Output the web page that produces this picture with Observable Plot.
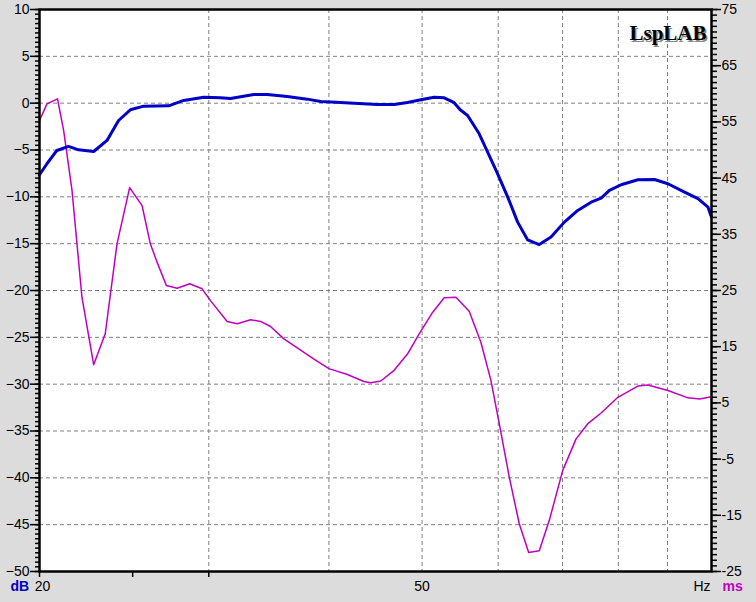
<!DOCTYPE html>
<html>
<head>
<meta charset="utf-8">
<script src="https://cdn.jsdelivr.net/npm/d3@7"></script>
<script src="https://cdn.jsdelivr.net/npm/@observablehq/plot@0.6"></script>
<style>
  html, body { margin: 0; padding: 0; background: #dcdcdc; }
  #chart svg { display: block; }
</style>
</head>
<body>
<div id="chart"></div>
<script>
// Frequency response (dB) – blue curve
const freqDb = [20.0, 20.36, 20.85, 21.44, 21.96, 22.77, 23.51, 24.17, 24.86, 25.67, 27.25, 28.25, 29.64,
  30.85, 31.60, 33.42, 34.51, 36.20, 37.98, 39.22, 41.14, 42.48, 44.93, 46.76, 48.28, 49.85, 51.47, 52.72,
  53.99, 54.78, 55.76, 57.33, 58.50, 59.92, 61.37, 62.86, 64.39, 66.20, 68.09, 70.30, 72.59, 74.95, 76.77,
  78.31, 80.54, 83.83, 87.24, 90.09, 93.75, 96.82, 99.17, 100];
const levelDb = [-7.64, -6.47, -5.05, -4.62, -4.98, -5.16, -3.98, -1.85, -0.71, -0.32, -0.28, 0.29, 0.64,
  0.57, 0.5, 0.93, 0.93, 0.72, 0.43, 0.18, 0.07, 0.0, -0.14, -0.14, 0.07, 0.36, 0.64, 0.57,
  0.05, -0.71, -1.31, -3.27, -5.23, -7.54, -10.0, -12.7, -14.6, -15.1, -14.3, -12.7, -11.45, -10.57, -10.14,
  -9.32, -8.71, -8.18, -8.15, -8.6, -9.5, -10.2, -11.1, -12.17];

// Group delay (ms) – magenta curve
const freqMs = [20.0, 20.36, 20.88, 21.19, 21.62, 22.14, 22.77, 23.41, 24.08, 24.82, 25.57, 26.08, 26.51,
  27.10, 27.81, 28.66, 29.52, 30.12, 31.35, 32.11, 33.16, 33.96, 34.78, 35.91, 37.38, 38.59, 40.00, 41.81,
  43.50, 44.21, 45.29, 46.76, 48.28, 49.65, 51.27, 52.72, 54.22, 55.97, 57.56, 58.96, 60.15, 61.61, 63.10,
  64.54, 66.20, 67.81, 70.03, 72.30, 74.36, 76.77, 79.91, 83.83, 85.87, 90.09, 94.52, 97.19, 100];
const delayMs = [55.25, 58.2, 59.1, 53.5, 42.8, 23.8, 11.8, 17.3, 33.3, 43.3, 40.1, 33.3, 30.0,
  25.9, 25.4, 26.2, 25.3, 23.2, 19.5, 19.1, 19.8, 19.5, 18.6, 16.4, 14.4, 12.8, 11.1, 10.05,
  8.8, 8.6, 8.9, 10.8, 13.7, 17.3, 21.1, 23.7, 23.8, 21.3, 15.8, 9.0, 1.3, -8.2, -16.5,
  -21.6, -21.3, -15.9, -7.0, -1.4, 1.3, 3.2, 6.0, 8.0, 8.2, 7.2, 5.9, 5.7, 6.1];

// Axis ticks / labels
const dbTicks = [10, 5, 0, -5, -10, -15, -20, -25, -30, -35, -40, -45, -50];
const msTicks = [75, 65, 55, 45, 35, 25, 15, 5, -5, -15, -25];
const hzLabelsLeft = [20];
const hzLabelsMid = [50];
const hzTicks = [20, 25, 30];
const hzGrid = [30, 40, 50, 60, 70, 80, 90];
const dbGrid = [5, 0, -5, -10, -15, -20, -25, -30, -35, -40, -45];

// ms axis (-25..75) mapped onto the dB axis (-50..10)
const msToDb = v => -50 + (v + 25) * 0.6;
const dbToMs = v => (v + 50) / 0.6 - 25;

const blueData = freqDb.map((f, i) => ({f, v: levelDb[i]}));
const magData = freqMs.map((f, i) => ({f, v: msToDb(delayMs[i])}));

const dbMinor = d3.range(-50, 10.001, 0.5);
const msMinor = d3.range(-25, 75.001, 1).map(msToDb);

const chart = Plot.plot({
  width: 756,
  height: 602,
  marginLeft: 39,
  marginRight: 45,
  marginTop: 9,
  marginBottom: 31,
  style: {background: "#dcdcdc", fontFamily: "'Liberation Sans', Arial, sans-serif", fontSize: "14px", color: "black"},
  x: {type: "log", domain: [20, 100], label: null},
  y: {domain: [-50, 10], label: null},
  marks: [
    Plot.frame({fill: "white", stroke: null}),
    Plot.ruleY(dbGrid, {stroke: "#808080", strokeDasharray: "4,3", strokeWidth: 1}),
    Plot.ruleX(hzGrid, {stroke: "#808080", strokeDasharray: "4,3", strokeWidth: 1}),
    // left axis
    Plot.axisY({anchor: "left", label: null, ticks: dbMinor, tickSize: 4, tickFormat: () => "", strokeWidth: 1.5}),
    Plot.axisY({anchor: "left", label: null, ticks: dbTicks, tickSize: 9, tickPadding: 1, strokeWidth: 1.5, fontSize: 14}),
    // right axis (ms)
    Plot.axisY({anchor: "right", label: null, ticks: msMinor, tickSize: 5, tickFormat: () => "", strokeWidth: 1.5}),
    Plot.axisY({anchor: "right", label: null, ticks: msTicks.map(msToDb), tickSize: 9, tickPadding: 1, strokeWidth: 1.5, fontSize: 14,
      tickFormat: d => String(Math.round(dbToMs(d)))}),
    // bottom axis
    Plot.axisX({anchor: "bottom", label: null, ticks: hzTicks, tickSize: 6, tickFormat: () => "", strokeWidth: 1.5}),
    Plot.text(hzLabelsLeft, {x: d => d, text: d => String(d), frameAnchor: "bottom", dy: 19, dx: 3, fontSize: 14, fill: "black"}),
    Plot.text(hzLabelsMid, {x: d => d, text: d => String(d), frameAnchor: "bottom", dy: 19, fontSize: 14, fill: "black"}),
    Plot.text(["dB"], {frameAnchor: "bottom-left", text: d => d, dx: -29, dy: 19, textAnchor: "start", fill: "#0000c8", fontWeight: "bold", fontSize: 14}),
    Plot.text(["Hz"], {frameAnchor: "bottom-right", text: d => d, dx: -18, dy: 19, textAnchor: "start", fill: "black", fontSize: 14}),
    Plot.text(["ms"], {frameAnchor: "bottom-right", text: d => d, dx: 11, dy: 19, textAnchor: "start", fill: "#c000c0", fontWeight: "bold", fontSize: 14}),
    // curves
    Plot.line(magData, {x: "f", y: "v", stroke: "#c000c0", strokeWidth: 1.5}),
    Plot.line(blueData, {x: "f", y: "v", stroke: "#0000c8", strokeWidth: 3}),
    // logo
    Plot.text(["LspLAB"], {frameAnchor: "top-right", text: d => d, dx: -3.5, dy: 17.5, textAnchor: "end",
      fontFamily: "'Liberation Serif', 'Times New Roman', serif", fontWeight: "bold", fontSize: 21, fill: "#8a8a8a"}),
    Plot.text(["LspLAB"], {frameAnchor: "top-right", text: d => d, dx: -5, dy: 16, textAnchor: "end",
      fontFamily: "'Liberation Serif', 'Times New Roman', serif", fontWeight: "bold", fontSize: 21, fill: "black"}),
    Plot.frame({stroke: "black", strokeWidth: 2.5})
  ]
});
document.getElementById("chart").appendChild(chart);
</script>
</body>
</html>
